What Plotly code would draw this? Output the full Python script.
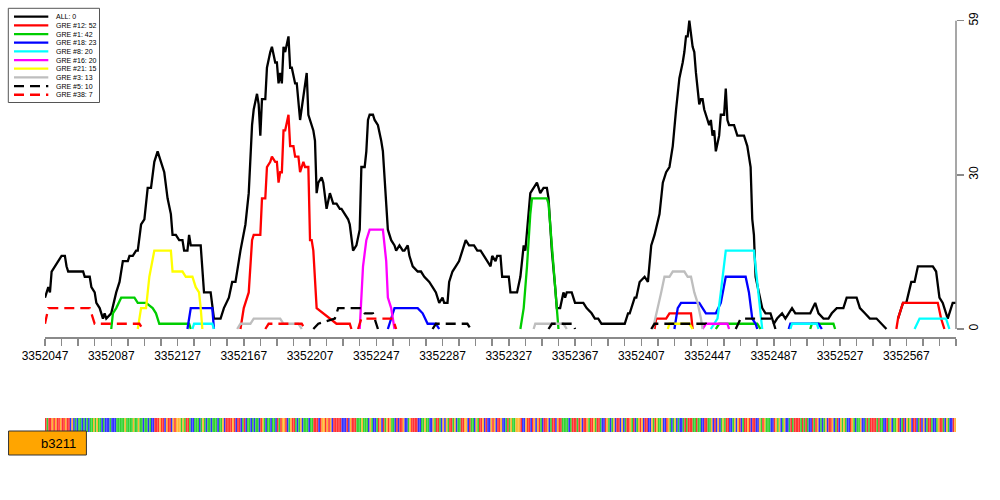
import plotly.graph_objects as go

START = 3352047
END = 3352597

# ---- motif-count tracks: segments of (offset from START, count) ----
ALL_SEGS = [
    [(0,6),(2,8),(3,7),(4,11),(6,12),(8,13),(10,14),(12,14),(13,12),(14,11),(23,11),(24,10),(27,10),(28,8),
     (30,7),(31,5),(33,4),(35,2),(36,3),(37,2),(40,3),(43,7),(45,9),(47,13),(50,13),(51,14),(53,14),(55,15),
     (56,15),(58,20),(60,21),(62,27),(64,27),(66,32),(68,34),(70,32),(72,30),(74,25),(76,22),(77,18),(79,18),
     (81,17),(83,17),(84,15),(86,15),(87,18),(88,16),(94,16),(96,7),(100,7),(102,2),(104,2),(106,2),(108,4),
     (111,6),(113,9),(115,9),(117,13),(118,15),(121,20),(123,26),(125,39),(126,42),(128,45),(129,43),(130,37),
     (131,44),(133,44),(134,50),(136,53),(137,54),(139,51),(140,51),(141,47),(142,49),(143,47),(144,54),
     (145,53),(147,56),(148,50),(149,50),(151,47),(152,47),(154,40),(156,45),(158,49),(159,41),(160,40),
     (162,38),(163,36),(164,26),(165,28),(167,29),(168,28),(170,23),(172,26),(174,24),(176,24),(178,23),
     (179,23),(181,22),(183,21),(184,20),(186,15),(188,16),(190,19),(191,31),(193,31),(194,34),(195,40),
     (196,41),(198,41),(199,40),(201,39),(203,36),(204,34),(207,19),(209,17),(211,16),(212,15),(214,16),
     (216,15),(217,15),(219,16),(220,14),(222,12),(225,11),(227,11),(229,10),(232,9),(234,8),(236,7),(238,5),
     (240,6),(241,5),(243,5),(244,9),(246,11),(248,12),(250,13),(252,15),(254,17),(256,16),(259,16),(261,15),
     (263,15),(265,14),(267,13),(269,12),(270,14),(272,13),(273,14),(275,14),(276,10),(278,10),(280,10),
     (281,7),(285,7),(287,10),(289,16),(290,15),(292,22),(293,26),(295,27),(297,28),(298,27),(299,26),
     (301,27),(303,27),(304,25),(306,15),(308,8),(309,4),(311,4),(313,7),(314,6),(315,7),(318,7),(320,5),
     (325,5),(327,4),(330,3),(332,2),(334,2),(336,1),(349,1),(350,1),(352,3),(353,3),(356,6),(357,6),(359,9),
     (362,10),(364,9),(366,16),(368,18),(370,21),(371,22),(373,28),(375,30),(377,31),(379,35),(381,42),
     (383,48),(385,51),(386,53),(387,56),(388,56),(389,59),(391,54),(392,53),(393,49),(395,43),(396,44),
     (397,44),(398,42),(400,40),(401,39),(402,40),(403,37),(404,38),(405,34),(407,37),(408,41),(410,41),
     (411,46),(412,40),(413,39),(416,39),(418,37),(422,37),(424,35),(426,31),(427,21),(428,18),(429,10),
     (431,7),(433,4),(435,3),(438,3),(440,1),(442,2),(445,3),(447,2),(449,3),(451,4),(453,3),(462,3),(465,5),
     (467,3),(470,2),(473,2),(475,3),(478,4),(482,4),(484,6),(490,6),(492,4),(495,3),(498,2),(502,2),(505,1),
     (508,0)],
    [(515,2),(518,5),(520,5),(523,9),(525,9),(527,12),(536,12),(538,11),(540,6),(542,5),(545,2),(546,3),
     (548,5),(550,5)],
]
GRE12_SEGS = [
    [(118,0),(120,4),(123,7),(124,13),(125,17),(126,18),(130,18),(131,25),(133,25),(134,31),(136,32),(137,33),
     (139,32),(140,32),(141,28),(142,30),(143,30),(144,38),(145,38),(147,41),(148,35),(150,35),(151,33),
     (153,33),(154,30),(156,32),(157,31),(159,31),(160,17),(161,17),(162,15),(164,4),(168,3),(172,2),(176,1),
     (184,1),(185,0)],
    [(368,0),(369,2),(375,2),(377,3),(390,3),(391,0)],
    [(514,0),(515,2),(518,5),(520,5),(539,5),(541,2),(543,0)],
]
GRE1_SEGS = [
    [(40,0),(41,3),(43,4),(46,6),(54,6),(56,5),(61,5),(65,4),(67,3),(69,1),(87,1),(88,0)],
    [(287,0),(289,4),(291,12),(292,18),(293,22),(294,25),(303,25),(304,24),(306,16),(308,9),(310,0)],
    [(405,0),(407,1),(430,1),(432,0)],
    [(462,0),(463,1),(476,1),(477,0)],
]
GRE18_SEGS = [
    [(86,0),(88,4),(101,4),(102,0)],
    [(207,0),(209,2),(211,4),(225,4),(228,3),(231,1),(236,1),(238,0)],
    [(380,0),(382,4),(384,5),(395,5),(399,3),(405,3),(408,5),(411,10),(423,10),(425,7),(427,2),(429,1),(430,0)],
    [(449,0),(450,1),(467,1),(469,0)],
]
GRE8_SEGS = [
    [(89,0),(90,1),(101,1),(102,0)],
    [(402,0),(406,2),(408,7),(411,15),(428,15),(430,9),(432,3),(433,0)],
    [(450,0),(451,1),(466,1),(467,0)],
    [(525,0),(528,2),(544,2),(546,0)],
]
GRE16_SEGS = [
    [(190,0),(191,7),(192,12),(194,17),(196,19),(204,19),(206,13),(207,6),(209,4),(211,0)],
    [(397,0),(399,1),(412,1),(413,0)],
]
GRE21_SEGS = [
    [(56,0),(58,4),(61,4),(63,10),(66,15),(76,15),(77,11),(83,11),(85,10),(89,10),(91,8),(93,7),(94,4),(95,0)],
    [(376,0),(377,1),(389,1),(391,0)],
]
GRE3_SEGS = [
    [(116,0),(118,1),(124,1),(126,2),(142,2),(144,1),(153,1),(155,0)],
    [(295,0),(296,1),(313,1),(315,0)],
    [(367,0),(370,4),(372,7),(374,10),(377,10),(379,11),(386,11),(388,10),(390,10),(392,7),(394,5),(396,2),(397,0)],
]
GRE5_SEGS = [
    [(162,0),(165,1),(175,2),(177,4),(191,4),(193,3),(198,3),(199,2),(201,0)],
    [(234,0),(236,1),(255,1),(257,0)],
    [(304,0),(306,1),(319,1),(320,0)],
    [(366,0),(368,1),(399,1),(400,0)],
    [(417,0),(420,2),(439,2),(441,0)],
]
GRE38_SEGS = [
    [(0,1),(2,4),(27,4),(30,1),(57,1),(59,0)],
    [(133,0),(135,1),(155,1),(157,0)],
    [(189,0),(191,2),(210,2),(212,0)],
]

SERIES_NAMES = ["ALL", "GRE #12", "GRE #1", "GRE #18", "GRE #8", "GRE #16", "GRE #21", "GRE #3", "GRE #5", "GRE #38"]
SERIES_COUNTS = [0, 52, 42, 23, 20, 20, 15, 13, 10, 7]
SERIES_COLORS = ["#000000", "#FF0000", "#00CD00", "#0000FF", "#00FFFF", "#FF00FF", "#FFFF00", "#BEBEBE", "#000000", "#FF0000"]
SERIES_DASH = ["solid"] * 8 + ["10px,6px", "10px,6px"]
SERIES_SEGS = [ALL_SEGS, GRE12_SEGS, GRE1_SEGS, GRE18_SEGS, GRE8_SEGS, GRE16_SEGS, GRE21_SEGS, GRE3_SEGS,
               GRE5_SEGS, GRE38_SEGS]

Y_TICKS = [0, 29.5, 59]
Y_TICKTEXT = ["0", "30", "59"]
X_LABEL_STEP = 40
X_MINOR_STEP = 10

# ---- sequence track ----
SEQUENCE = (
    "TATTGTGTTG" "TTGTTCGCAC" "AACACACAAG" "AGAACACCCA" "CCCAAAAAGA" "AAAGAAGAAC" "AACACCTTTG"
    "TTCGTTCGTG" "GGAGATTACC" "AAACAGACAA" "CAAACAAGCT" "TTTGTCTTCA" "TCAACACAAC" "TGACAACAAC"
    "TATGGTCAGT" "TACAGCAAAC" "AATTTCTGGT" "GTGCTTTTTC" "CCTCGTTTAA" "AGAAACGACC" "ATGCTAGTGA"
    "ACTCTTGCCA" "GTTTTCCAAG" "AACCGATTAC" "GCGATTAGCA" "ATTGGCTAAC" "GATTGCTCCG" "TGCTTGCCAT"
    "AGAAGGGTCC" "GTTCTGCGTA" "CTTGCATTCG" "TTAAAACATT" "TATGCTTGAT" "TGATTACCTG" "ACAGCTTCGC"
    "ATTGATCAGT" "GCTTCCGATG" "AAGCCTGACA" "GCACCATATT" "TAATAACCTT" "AAGCTCGCAG" "ATTCCAGCGT"
    "CATTGTCTTC" "CGATGAAACC" "TGAGCAGCCA" "TATTTTATAT" "ACCTATGCAC" "AGCTTGCATC" "GAGACCTGAC"
    "AAGCCATATT" "TTATAACCTA" "GCAAGTCATC" "GAGCTTCATC" "GCATTACCAG" "TTACGACCTG"
)
BASE_COLORS = {"A": "#00C800", "C": "#0000FF", "G": "#FFA500", "T": "#FF0000"}

GENE_NAME = "b3211"
GENE_START = 3352025
GENE_END = 3352072

# ---- geometry (pixels) ----
W, H = 1000, 500
ML, MR, MT, MB = 0, 44, 8, 40
PW, PH = W - ML - MR, H - MT - MB
MAIN_LEFT_PX = 45
MAIN_BOTTOM_PX = 337
ZERO_PX = 329
PX_PER_UNIT = (329 - 20.7) / 59
PX_PER_BP = (PW - MAIN_LEFT_PX) / (END - START)
TRACK_TOP_PX = 400


def px2paper_x(px):
    return (px - ML) / PW


def px2paper_y(py):
    return (H - MB - py) / PH


def flatten(segs):
    xs, ys = [], []
    for seg in segs:
        for o, v in seg:
            xs.append(START + o)
            ys.append(v)
        xs.append(None)
        ys.append(None)
    return xs, ys


fig = go.Figure()

for name, segs, color, dash in zip(SERIES_NAMES, SERIES_SEGS, SERIES_COLORS, SERIES_DASH):
    xs, ys = flatten(segs)
    fig.add_trace(go.Scatter(x=xs, y=ys, mode="lines", name=name, connectgaps=False,
                             line=dict(color=color, width=2.3, dash=dash),
                             xaxis="x", yaxis="y", showlegend=False, hoverinfo="skip"))

# sequence strip
positions = [START + i + 0.5 for i in range(len(SEQUENCE))]
fig.add_trace(go.Bar(x=positions, y=[14] * len(SEQUENCE), base=[28] * len(SEQUENCE), width=1,
                     marker=dict(color=[BASE_COLORS[b] for b in SEQUENCE], line=dict(width=0)),
                     opacity=0.8, xaxis="x2", yaxis="y2", showlegend=False, hoverinfo="skip"))

ymin = -(MAIN_BOTTOM_PX - ZERO_PX) / PX_PER_UNIT
ymax = (ZERO_PX - MT) / PX_PER_UNIT
axis_gray = "#8a8a8a"
font_family = "Liberation Sans, Arial, sans-serif"

fig.update_layout(
    width=W, height=H,
    margin=dict(l=ML, r=MR, t=MT, b=MB, autoexpand=False),
    paper_bgcolor="white", plot_bgcolor="white",
    showlegend=False,
    font=dict(family=font_family, color="black"),
    xaxis=dict(domain=[MAIN_LEFT_PX / PW, 1], range=[START, END], anchor="y", automargin=False,
               tickmode="array",
               tickvals=list(range(START, END - 29, X_LABEL_STEP)),
               ticktext=[str(v) for v in range(START, END - 29, X_LABEL_STEP)],
               ticks="outside", ticklen=7, tickwidth=1.5, tickcolor=axis_gray,
               showline=True, linecolor=axis_gray, linewidth=1.5,
               showgrid=False, zeroline=False,
               tickfont=dict(size=12, color="black", family=font_family),
               minor=dict(tickmode="linear", tick0=START, dtick=X_MINOR_STEP, ticks="outside",
                          ticklen=7, tickwidth=1.5, tickcolor=axis_gray, showgrid=False)),
    yaxis=dict(domain=[px2paper_y(MAIN_BOTTOM_PX), 1], range=[ymin, ymax], anchor="x", side="right",
               automargin=False,
               tickmode="array", tickvals=Y_TICKS, ticktext=Y_TICKTEXT,
               ticks="outside", ticklen=7, tickwidth=1.5, tickcolor=axis_gray, tickangle=-90,
               showline=False, showgrid=False, zeroline=False,
               tickfont=dict(size=12, color="black", family=font_family)),
    xaxis2=dict(domain=[0, 1], range=[START - MAIN_LEFT_PX / PX_PER_BP, END], anchor="y2",
                visible=False, showgrid=False, zeroline=False, automargin=False),
    yaxis2=dict(domain=[0, px2paper_y(TRACK_TOP_PX)], range=[0, H - MB - TRACK_TOP_PX], anchor="x2",
                visible=False, showgrid=False, zeroline=False, automargin=False),
)

shapes = []
# right axis line (spans first to last tick)
shapes.append(dict(type="line", xref="x domain", yref="y", x0=1, x1=1, y0=Y_TICKS[0], y1=Y_TICKS[-1],
                   line=dict(color=axis_gray, width=1.5)))
# gene box
shapes.append(dict(type="rect", xref="x2", yref="y2", x0=GENE_START, x1=GENE_END, y0=5, y1=29,
                   fillcolor="#FFA500", line=dict(color="#333333", width=1), layer="above"))

# legend (manual, compact like the original)
leg_left, leg_right, leg_top, leg_bottom = 8.3, 99.5, 8.3, 102.5
shapes.append(dict(type="rect", xref="paper", yref="paper",
                   x0=px2paper_x(leg_left), x1=px2paper_x(leg_right),
                   y0=px2paper_y(leg_bottom), y1=px2paper_y(leg_top),
                   fillcolor="white", line=dict(color="#555555", width=1), layer="above"))
annotations = []
for i, (name, count, color, dash) in enumerate(zip(SERIES_NAMES, SERIES_COUNTS, SERIES_COLORS, SERIES_DASH)):
    ry = 16.7 + i * 8.67
    shapes.append(dict(type="line", xref="paper", yref="paper",
                       x0=px2paper_x(14), x1=px2paper_x(48.3), y0=px2paper_y(ry), y1=px2paper_y(ry),
                       line=dict(color=color, width=2.3, dash=dash), layer="above"))
    annotations.append(dict(xref="paper", yref="paper", x=px2paper_x(53.5), y=px2paper_y(ry),
                            xanchor="left", yanchor="middle", showarrow=False,
                            text=f"{name}: {count}", font=dict(size=7, color="black", family=font_family)))

annotations.append(dict(xref="x2", yref="y2", x=GENE_END, y=17, xanchor="right", yanchor="middle",
                        xshift=-8, showarrow=False, text=GENE_NAME,
                        font=dict(size=13, color="black", family=font_family)))

fig.update_layout(shapes=shapes, annotations=annotations)

fig.write_html("out.html", config={"displayModeBar": False, "staticPlot": True},
               post_script="document.body.style.margin='0px';document.body.style.overflow='hidden';")
